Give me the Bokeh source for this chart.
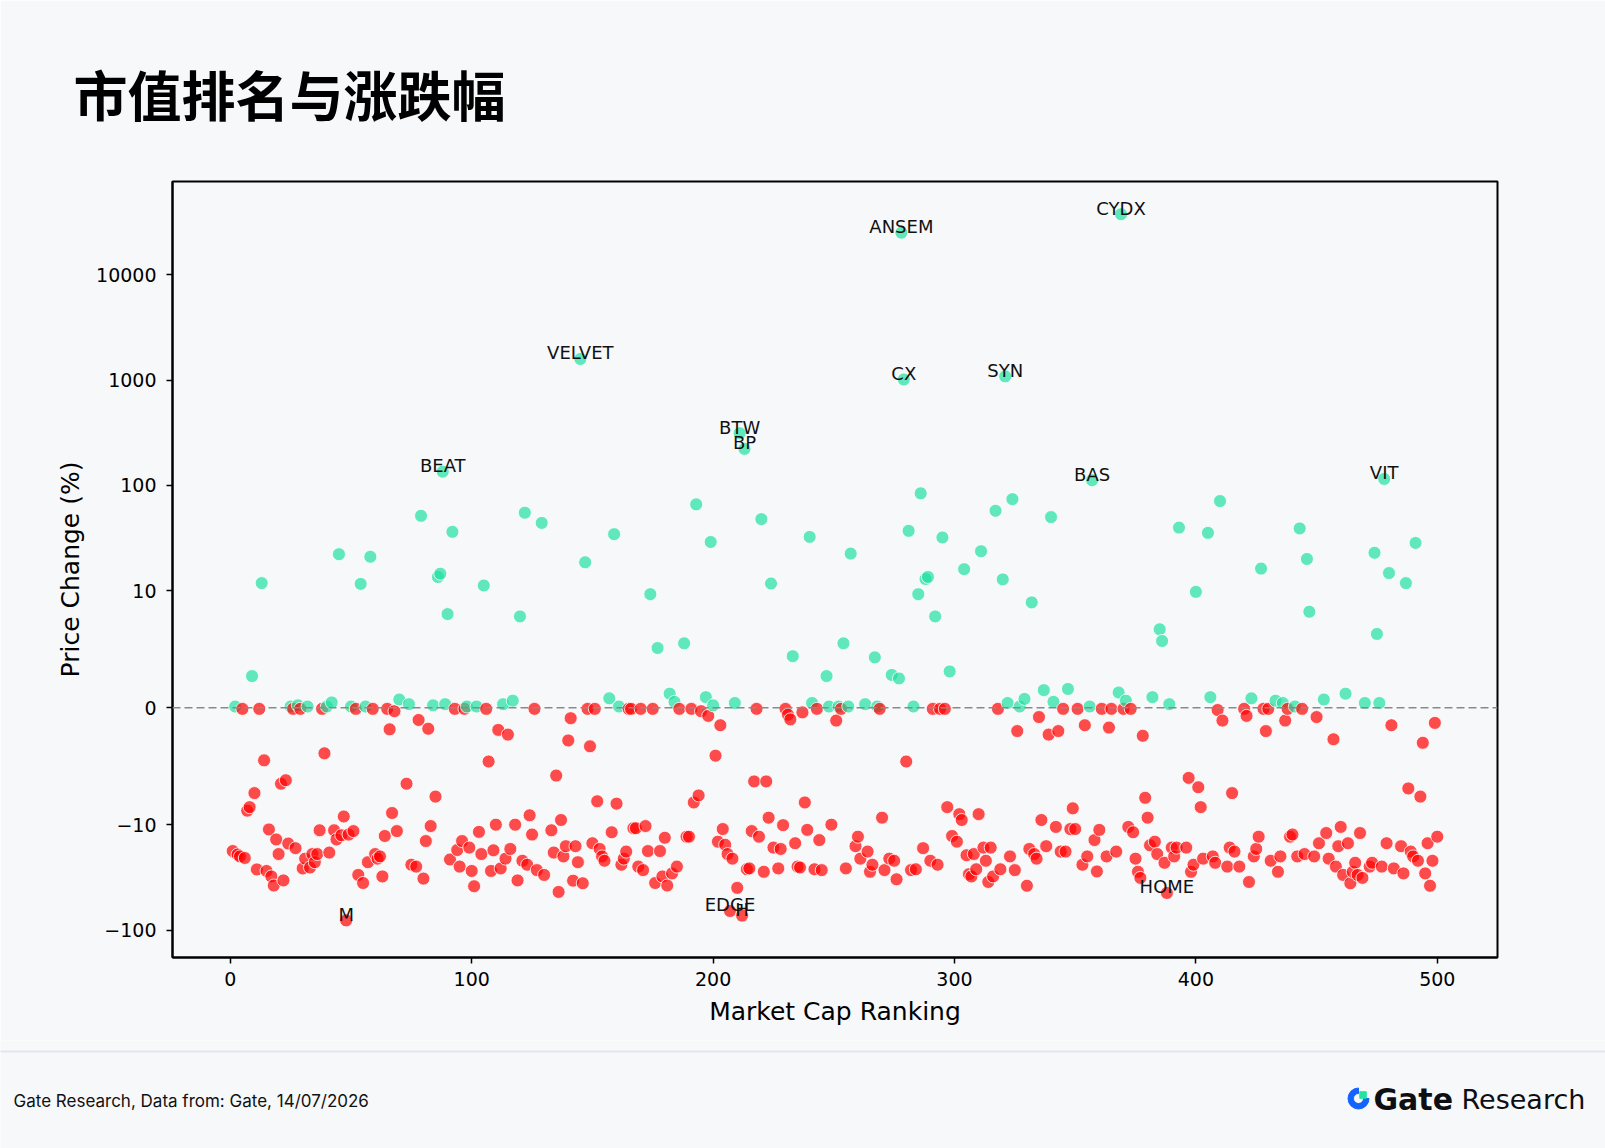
import numpy as np
from bokeh.plotting import figure
from bokeh.models import ColumnDataSource, Range1d, FixedTicker, Span, Title
from bokeh.layouts import column
from bokeh.core.properties import value
from bokeh.embed import file_html
from bokeh.resources import INLINE

# Market cap ranking and price change (%)
ranks = [
    1, 2, 3, 4, 5, 6, 7, 8, 9, 10, 11, 12, 13, 14, 15, 16, 17, 18, 19, 20,
    21, 22, 23, 24, 25, 26, 27, 28, 29, 30, 31, 32, 33, 34, 35, 36, 37, 38, 39, 40,
    41, 42, 43, 44, 45, 46, 47, 48, 49, 50, 51, 52, 53, 54, 55, 56, 57, 58, 59, 60,
    61, 62, 63, 64, 65, 66, 67, 68, 69, 70, 73, 74, 75, 77, 78, 79, 80, 81, 82, 83,
    84, 85, 86, 87, 88, 89, 90, 91, 92, 93, 94, 95, 96, 97, 98, 99, 100, 101, 102, 103,
    104, 105, 106, 107, 108, 109, 110, 111, 112, 113, 114, 115, 116, 117, 118, 119, 120, 121, 122, 123,
    124, 125, 126, 127, 129, 130, 133, 134, 135, 136, 137, 138, 139, 140, 141, 142, 143, 144, 145, 146,
    147, 148, 149, 150, 151, 152, 153, 154, 155, 157, 158, 159, 160, 161, 162, 163, 164, 165, 166, 167,
    168, 169, 170, 171, 172, 173, 174, 175, 176, 177, 178, 179, 180, 181, 182, 183, 184, 185, 186, 188,
    189, 190, 191, 192, 193, 194, 195, 197, 198, 199, 200, 201, 202, 203, 204, 205, 206, 207, 208, 209,
    210, 211, 212, 213, 214, 215, 216, 217, 218, 219, 220, 221, 222, 223, 224, 225, 227, 228, 229, 230,
    231, 232, 233, 234, 235, 236, 237, 238, 239, 240, 241, 242, 243, 244, 245, 247, 248, 249, 251, 252,
    253, 254, 255, 256, 257, 259, 260, 261, 263, 264, 265, 266, 267, 268, 269, 270, 271, 273, 274, 275,
    276, 277, 278, 279, 280, 281, 282, 283, 284, 285, 286, 287, 288, 289, 290, 291, 292, 293, 294, 295,
    296, 297, 298, 299, 301, 302, 303, 304, 305, 306, 307, 308, 309, 310, 311, 312, 313, 314, 315, 316,
    317, 318, 319, 320, 321, 322, 323, 324, 325, 326, 327, 329, 330, 331, 332, 333, 334, 335, 336, 337,
    338, 339, 340, 341, 342, 343, 344, 345, 346, 347, 348, 349, 350, 351, 353, 354, 355, 356, 357, 358,
    359, 360, 361, 363, 364, 365, 367, 368, 369, 370, 371, 372, 373, 374, 375, 376, 377, 378, 379, 380,
    381, 382, 383, 384, 385, 386, 387, 388, 389, 390, 391, 392, 393, 396, 397, 398, 399, 400, 401, 402,
    403, 405, 406, 407, 408, 409, 410, 411, 413, 414, 415, 416, 418, 420, 421, 422, 423, 424, 425, 426,
    427, 428, 429, 430, 431, 433, 434, 435, 436, 437, 438, 439, 440, 441, 442, 443, 444, 445, 446, 447,
    449, 450, 451, 453, 454, 455, 457, 458, 459, 460, 461, 462, 463, 464, 465, 466, 467, 468, 469, 470,
    472, 473, 474, 475, 476, 477, 478, 479, 480, 481, 482, 485, 486, 487, 488, 489, 490, 491, 492, 493,
    494, 495, 496, 497, 498, 499, 500,
]
changes = [
    -17.8, 0.1, -19.2, -20.0, -0.1, -20.7, -8.8, -8.5, 2.7, -7.3, -26.6, -0.1, 11.8, -4.5, -27.5, -11.1, -31, -37.8, -13.8, -19,
    -6.5, -33.8, -6.2, -15.1, 0.1, -0.1, -16.7, 0.2, -0.1, -26, -21, 0.1, -25.5, -19, -22.7, -19, -11.3, -0.1, -3.9, 0.1,
    -18.4, 0.45, -11.3, -13.8, 22.2, -12.6, -9.3, -81, -12.4, 0.1, -11.5, -0.1, -30, 11.6, -35.8, 0.1, -22.7, 21, -0.1, -19,
    -21, -20, -31, -12.8, -0.1, -1.85, -9.0, -0.3, -11.5, 0.7, -6.5, 0.3, -24, -25, -1.05, 51.4, -32.5, -14.3, -1.8, -10.3,
    0.2, -7.6, 13.5, 14.5, 135, 0.3, 8.0, -21.4, 36.2, -0.1, -17.4, -25, -14.3, -0.1, 0.1, -16.5, -27.5, -38.4, 0.1, -11.7,
    -19, 11.2, -0.1, -4.6, -27.5, -17.5, -10, -1.9, -26, 0.3, -21, -2.3, -17, 0.6, -10, -33.8, 7.8, -22, 55, -24,
    -9.2, -12.4, -0.1, -27, 44, -30, -11.3, -18.4, -5.8, -43.5, -9.6, -20, -16, -2.8, -0.9, -34, -16, -22.7, 1585, -36,
    18.6, -0.1, -3.3, -15, -0.1, -8.0, -17, -20, -22, 0.8, -11.8, 34.4, -8.2, 0.1, -24, -21, -18, -0.1, -0.1, -10.8,
    -10.8, -25, -0.1, -27, -10.3, -17.8, 9.7, -0.1, -35.8, 5.1, -17.8, -31, -13.3, -37.8, 1.2, -29, 0.5, -25, -0.1, 5.5,
    -13, -13, -0.1, -8.1, 66, -7.5, -0.3, 0.9, -0.7, 29, 0.2, -4.1, -14.5, -1.5, -11, -15.5, -19, -66, -21, 0.4,
    -39.8, 313, -73, 222, -26.5, -26, -11.5, -6.3, -0.1, -13, 47.8, -28, -6.3, -9.4, 11.7, -16.5, -26, -17, -10.1, -0.1,
    -0.6, -1.0, 4.4, -15, -25, -25.5, -0.4, -8.1, -11.2, 32.4, 0.4, -26.5, -0.1, -14, -27, 2.7, 0.1, -10, -1.1, 0.1,
    -0.1, 5.5, -26, 0.1, 22.5, -16, -13, -21, 0.3, -18, -28, -24, 4.3, 0.1, -0.1, -9.4, -27, -21, 2.8, -22,
    -33, 2.5, 25100, 1012, -4.6, 37, -27, 0.1, -26.5, 9.7, 84, -16.7, 12.9, 13.5, -22, -0.1, 7.8, -24, -0.1, 32,
    -0.1, -8.5, 3.1, -12.8, -14.5, -9.1, -9.6, 16, -19.5, -29.5, -31, -19, -26.5, -9.1, 23.7, -16.5, -22, -35, -16.5, -31,
    57.4, -0.1, -26.5, 12.8, 1084, 0.4, -20, 74, -27, -2.0, 0.1, 0.75, -38, -17, 9.0, -19, -21, -0.8, -9.6, 1.5,
    -16, -2.3, 50, 0.5, -10.5, -2.0, -18, -0.1, -18, 1.6, -11, -8.6, -11, -0.1, -24, -1.5, -20, 0.1, 112, -14,
    -27.8, -11.2, -0.1, -20, -1.7, -0.1, -18, 1.3, 37600, -0.1, 0.6, -10.5, -0.1, -11.8, -21, -28, -32, -2.4, -7.7, -9.4,
    -15.7, 0.9, -14.5, -19, 6.7, 5.7, -23, -44.5, 0.3, -16.5, -20, -16.5, 39.7, -16.5, -6.0, -28, -24, 9.9, -6.8, -8.5,
    -21, 35.4, 0.9, -20, -23, -0.2, 71, -1.1, -25, -16.5, -7.3, -18, -25, -0.1, -0.7, -35, 0.8, -20, -17, -13,
    16.2, -0.1, -2.0, -0.1, -22, 0.6, -28, -20, 0.4, -1.1, -0.1, -13, -12.4, 0.1, -20, 39, -0.1, -19, 20, 8.2,
    -20, -0.8, -15, 0.7, -12, -21, -2.7, -25, -16, -10.5, -30, 1.2, -15, -36, -28, -23, -30, -12, -32, 0.4,
    -25, -23, 22.9, 6.3, 0.4, -25, 115, -15, 14.7, -1.5, -26, -16, -29, 11.8, -6.9, -18, -20, 28.4, -22, -7.6,
    -3.0, -29, -15, -38, -22, -1.3, -13,
]

# Tokens that carry a name label
label_names = ["M", "BEAT", "VELVET", "EDGE", "BTW", "H", "BP", "ANSEM", "CX", "SYN", "BAS", "CYDX", "HOME", "VIT"]
label_ranks = [48, 88, 145, 207, 211, 212, 213, 278, 279, 321, 357, 369, 388, 478]

# Tick values of the symlog axis
y_tick_values = [-100, -10, 0, 10, 100, 1000, 10000]
x_tick_values = [0, 100, 200, 300, 400, 500]

title_text = "市值排名与涨跌幅"
source_text = "Gate Research, Data from: Gate, 14/07/2026"

BG = "#f7f8fa"
GREEN = "#1fdf9f"
RED = "#ff0000"
W = 1605


def symlog(v):
    # symlog with linthresh 10, linscale 1 (one decade = 9 units)
    v = np.asarray(v, dtype=float)
    a = np.abs(v)
    return np.where(a <= 10, v, np.sign(v) * (10 + 9 * np.log10(np.maximum(a, 1e-9) / 10)))


change_of = dict(zip(ranks, changes))

src = ColumnDataSource(data=dict(
    rank=ranks,
    ty=symlog(changes),
    color=[GREEN if c > 0 else RED for c in changes],
))
lab = ColumnDataSource(data=dict(
    x=label_ranks,
    y=symlog([change_of[r] for r in label_ranks]),
    text=label_names,
))

# Main scatter, the title sits in its top border
p = figure(width=W, height=1040, x_range=Range1d(-23.95, 524.95), y_range=Range1d(-21.35, 44.97),
           x_axis_label="Market Cap Ranking", y_axis_label="Price Change (%)",
           output_backend="svg", toolbar_location=None,
           min_border_left=172, min_border_right=108, min_border_top=181, min_border_bottom=83,
           background_fill_color=BG, border_fill_color=BG)
p.title = Title(text=title_text, align="left", offset=-99, standoff=98,
                text_font="Noto Sans CJK SC", text_font_size="54px", text_font_style="bold",
                text_color="#000000")
p.frame_align = False
p.grid.visible = False
p.outline_line_color = "#000000"
p.outline_line_width = 2

p.scatter("rank", "ty", source=src, size=13, fill_color="color", fill_alpha=0.7,
          line_color="white", line_alpha=0.8, line_width=1)

p.add_layout(Span(location=0, dimension="width", line_color="#8a8a8a", line_dash="8 4", line_width=1.6))

p.text("x", "y", "text", source=lab, text_font=value("DejaVu Sans"), text_font_size="18px",
       text_align="center", text_baseline="alphabetic", y_offset=-6, text_color="#111111")

p.xaxis.ticker = FixedTicker(ticks=x_tick_values)
ypos = [int(round(float(t))) for t in symlog(y_tick_values)]
p.yaxis.ticker = FixedTicker(ticks=ypos)
p.yaxis.major_label_overrides = {k: str(t).replace("-", "\u2212") for k, t in zip(ypos, y_tick_values)}

for ax in (p.xaxis, p.yaxis):
    ax.minor_tick_line_color = None
    ax.major_tick_out = 6
    ax.major_tick_in = 0
    ax.major_tick_line_width = 1.5
    ax.major_tick_line_color = "#000000"
    ax.axis_line_width = 2
    ax.axis_line_color = "#000000"
    ax.major_label_text_font = "DejaVu Sans"
    ax.major_label_text_font_size = "19px"
    ax.major_label_text_color = "#000000"
    ax.axis_label_text_font = "DejaVu Sans"
    ax.axis_label_text_font_size = "25px"
    ax.axis_label_text_font_style = "normal"
    ax.axis_label_text_color = "#000000"
p.yaxis.major_label_standoff = 10
p.yaxis.axis_label_standoff = 8
p.xaxis.major_label_standoff = 8
p.xaxis.axis_label_standoff = 8

# Footer with source and logo
f = figure(width=W, height=108, x_range=Range1d(0, W), y_range=Range1d(0, 108),
           x_axis_type=None, y_axis_type=None, output_backend="svg", toolbar_location=None,
           min_border=0, background_fill_color=BG, border_fill_color=BG, outline_line_color=None)
f.frame_align = False
f.grid.visible = False
f.segment(x0=[-10], y0=[97], x1=[W + 10], y1=[97], line_color="#e3e5e9", line_width=2)
f.text(x=[13], y=[47.5], text=[source_text], text_font=value("Inter"), text_font_size="17px",
       text_baseline="middle", text_color="#111111")
f.annular_wedge(x=[1358], y=[50], inner_radius=5, outer_radius=10.5, start_angle=np.pi / 2,
                end_angle=2 * np.pi, color="#1463ff")
f.rect(x=[1362.5], y=[53.5], width=6.5, height=6.5, color="#22e3a2")
f.text(x=[1373], y=[49.5], text=["Gate"], text_font=value("DejaVu Sans"), text_font_style="bold",
       text_font_size="30px", text_baseline="middle", text_color="#0e0f12")
f.text(x=[1461], y=[49.5], text=["Research"], text_font=value("DejaVu Sans"),
       text_font_size="27px", text_baseline="middle", text_color="#0e0f12")

layout = column(p, f)

open("out.html", "w").write(file_html(layout, INLINE))
